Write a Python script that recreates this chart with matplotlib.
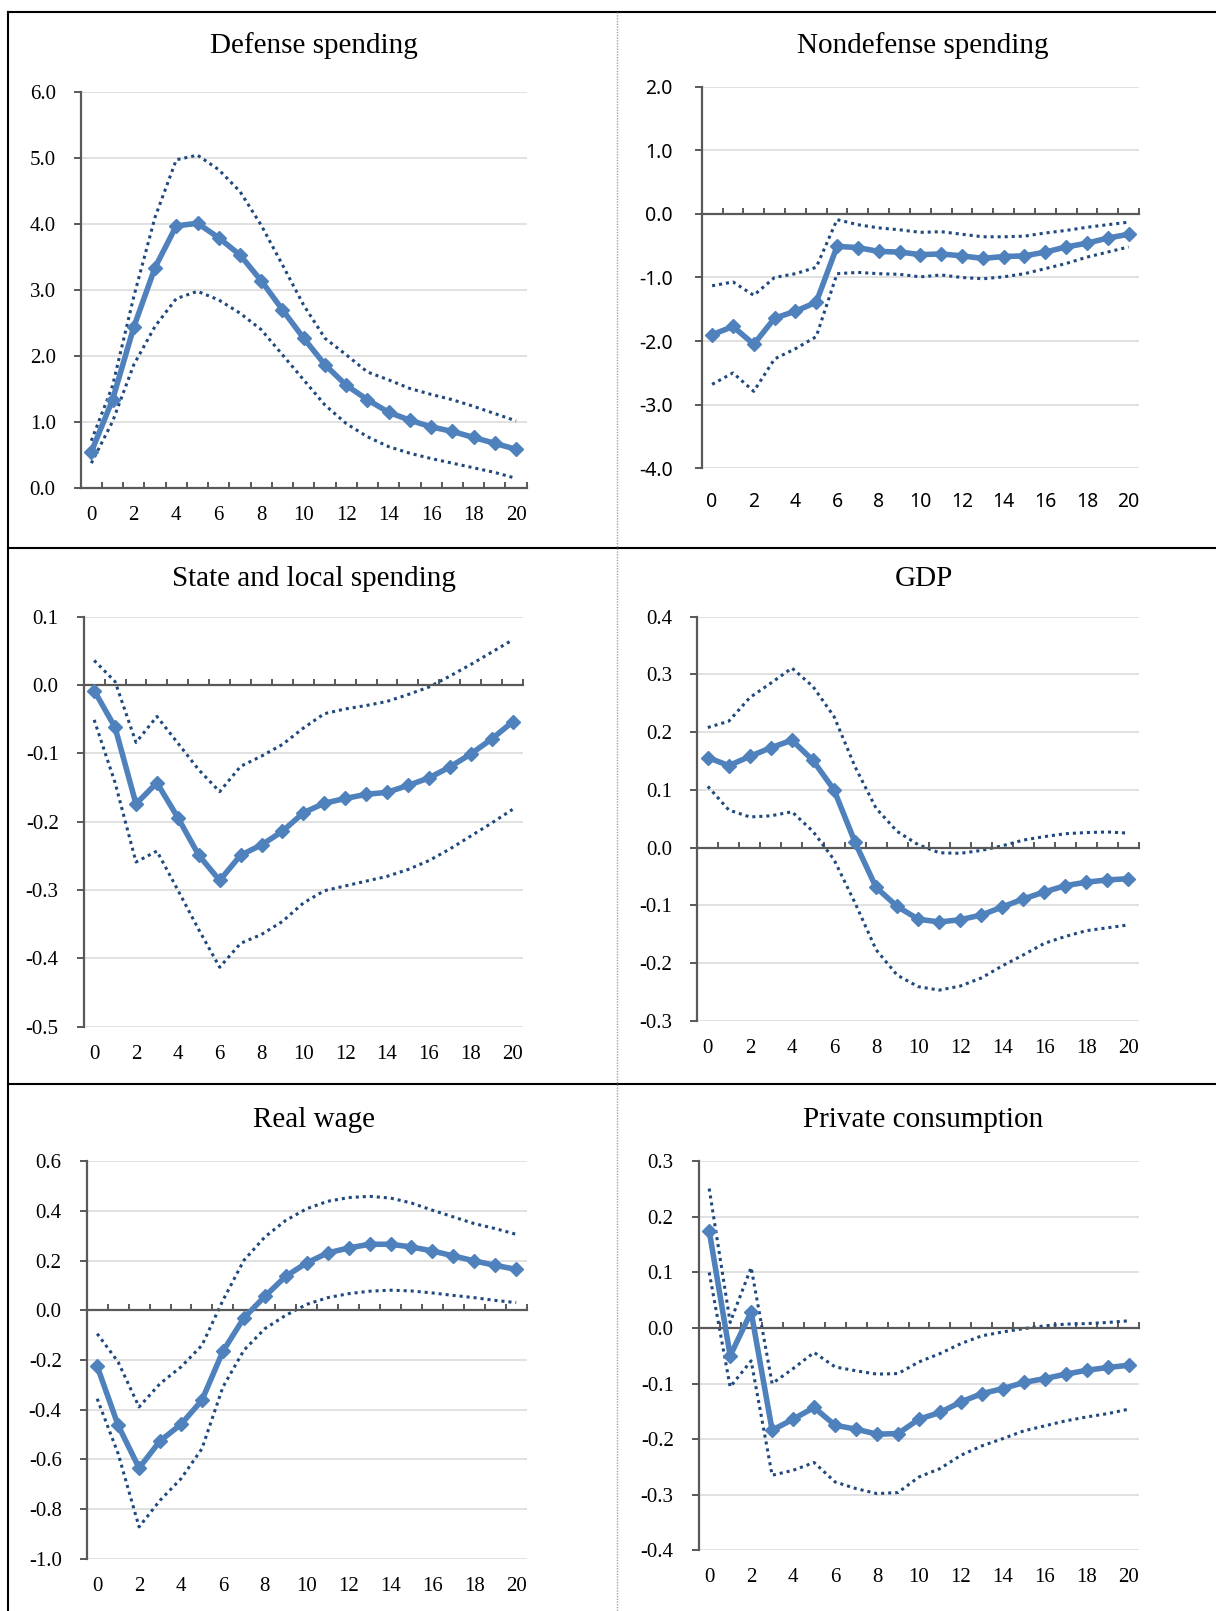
import matplotlib
matplotlib.use("Agg")
import matplotlib.pyplot as plt
from matplotlib.lines import Line2D
from matplotlib.ticker import FormatStrFormatter
import numpy as np

plt.rcParams['axes.unicode_minus'] = False

# Quarters after the shock
horizon = list(range(21))

# Defense spending
defense_irf = [0.55, 1.34, 2.44, 3.34, 3.97, 4.01, 3.79, 3.53, 3.14, 2.70, 2.27,
               1.87, 1.56, 1.34, 1.15, 1.03, 0.93, 0.86, 0.77, 0.68, 0.59]
defense_lo = [0.38, 1.01, 1.87, 2.45, 2.87, 2.98, 2.85, 2.65, 2.40, 2.02, 1.64,
              1.26, 0.98, 0.78, 0.63, 0.53, 0.45, 0.38, 0.31, 0.24, 0.15]
defense_hi = [0.72, 1.55, 2.90, 4.10, 4.97, 5.04, 4.82, 4.49, 3.98, 3.38, 2.77,
              2.27, 2.02, 1.76, 1.64, 1.51, 1.42, 1.34, 1.24, 1.13, 1.02]

# Nondefense spending
nondef_irf = [-1.90, -1.77, -2.05, -1.64, -1.53, -1.39, -0.51, -0.53, -0.59, -0.60, -0.64,
              -0.63, -0.66, -0.70, -0.67, -0.66, -0.60, -0.52, -0.46, -0.38, -0.32]
nondef_lo = [-2.68, -2.50, -2.79, -2.28, -2.12, -1.93, -0.94, -0.92, -0.94, -0.95, -0.99,
             -0.96, -1.00, -1.02, -0.99, -0.94, -0.86, -0.78, -0.68, -0.60, -0.52]
nondef_hi = [-1.13, -1.07, -1.28, -1.00, -0.94, -0.84, -0.09, -0.17, -0.22, -0.25, -0.29,
             -0.28, -0.32, -0.36, -0.36, -0.35, -0.30, -0.26, -0.21, -0.17, -0.13]

# State and local spending
state_irf = [-0.008, -0.062, -0.174, -0.143, -0.194, -0.249, -0.286, -0.249, -0.234, -0.214, -0.187,
             -0.173, -0.166, -0.160, -0.157, -0.147, -0.136, -0.120, -0.101, -0.079, -0.054]
state_lo = [-0.051, -0.143, -0.259, -0.243, -0.300, -0.358, -0.413, -0.378, -0.365, -0.346, -0.319,
            -0.301, -0.294, -0.287, -0.280, -0.270, -0.257, -0.240, -0.221, -0.202, -0.182]
state_hi = [0.036, 0.005, -0.084, -0.046, -0.085, -0.124, -0.156, -0.119, -0.104, -0.087, -0.063,
            -0.042, -0.035, -0.030, -0.024, -0.014, -0.003, 0.013, 0.030, 0.048, 0.066]

# GDP
gdp_irf = [0.156, 0.142, 0.158, 0.173, 0.186, 0.151, 0.100, 0.009, -0.069, -0.102, -0.124,
           -0.129, -0.125, -0.117, -0.103, -0.089, -0.077, -0.066, -0.060, -0.056, -0.054]
gdp_lo = [0.106, 0.065, 0.053, 0.055, 0.062, 0.028, -0.021, -0.096, -0.177, -0.221, -0.241,
          -0.247, -0.240, -0.226, -0.205, -0.186, -0.166, -0.154, -0.144, -0.139, -0.134]
gdp_hi = [0.208, 0.219, 0.260, 0.285, 0.311, 0.279, 0.227, 0.140, 0.068, 0.028, 0.005,
          -0.009, -0.010, -0.005, 0.003, 0.013, 0.019, 0.024, 0.026, 0.027, 0.025]

# Real wage
wage_irf = [-0.225, -0.463, -0.635, -0.526, -0.459, -0.362, -0.165, -0.031, 0.056, 0.137, 0.191,
            0.231, 0.251, 0.266, 0.266, 0.255, 0.239, 0.219, 0.199, 0.181, 0.165]
wage_lo = [-0.356, -0.577, -0.872, -0.765, -0.678, -0.557, -0.309, -0.161, -0.074, -0.020, 0.024,
           0.051, 0.067, 0.077, 0.081, 0.078, 0.070, 0.060, 0.051, 0.040, 0.031]
wage_hi = [-0.094, -0.208, -0.389, -0.295, -0.228, -0.141, 0.040, 0.201, 0.295, 0.362, 0.409,
           0.439, 0.454, 0.459, 0.452, 0.432, 0.403, 0.376, 0.349, 0.329, 0.306]

# Private consumption
cons_irf = [0.175, -0.050, 0.029, -0.184, -0.164, -0.143, -0.175, -0.182, -0.191, -0.190, -0.164,
            -0.152, -0.133, -0.118, -0.109, -0.098, -0.091, -0.083, -0.076, -0.071, -0.067]
cons_lo = [0.100, -0.106, -0.059, -0.265, -0.256, -0.242, -0.277, -0.289, -0.298, -0.296, -0.268,
           -0.253, -0.229, -0.212, -0.199, -0.185, -0.176, -0.167, -0.160, -0.154, -0.146]
cons_hi = [0.251, 0.010, 0.109, -0.100, -0.073, -0.044, -0.070, -0.077, -0.083, -0.082, -0.061,
           -0.046, -0.028, -0.014, -0.007, -0.001, 0.004, 0.007, 0.008, 0.010, 0.013]

titles = ["Defense spending", "Nondefense spending", "State and local spending",
          "GDP", "Real wage", "Private consumption"]
series = [(defense_irf, defense_lo, defense_hi), (nondef_irf, nondef_lo, nondef_hi),
          (state_irf, state_lo, state_hi), (gdp_irf, gdp_lo, gdp_hi),
          (wage_irf, wage_lo, wage_hi), (cons_irf, cons_lo, cons_hi)]
y_limits = [(0.0, 6.0), (-4.0, 2.0), (-0.5, 0.1), (-0.3, 0.4), (-1.0, 0.6), (-0.4, 0.3)]
y_steps = [1.0, 1.0, 0.1, 0.1, 0.2, 0.1]

# layout in pixels of the 1216x1611 page: (left, top, right, bottom) of each plot area
W, H = 1216, 1611
boxes = [(80.7, 91.7, 526.7, 488.3), (701.7, 86.7, 1139.0, 468.3),
         (83.7, 616.7, 523.0, 1026.7), (697.3, 616.7, 1139.0, 1020.7),
         (86.7, 1161.3, 526.7, 1558.7), (698.7, 1161.3, 1139.3, 1550.3)]
title_pos = [(314, 46), (923, 46), (314, 579), (924, 579), (314, 1120), (923, 1120)]

BLUE = '#4F81BD'
NAVY = '#1F497D'
AXIS = '#595959'
GRID = '#D9D9D9'
SERIF = 'Liberation Serif'

fig = plt.figure(figsize=(W / 100, H / 100), dpi=100)

for i in range(6):
    l, t, r, b = boxes[i]
    ax = fig.add_axes([l / W, 1 - b / H, (r - l) / W, (b - t) / H])
    irf, lo, hi = series[i]

    ax.plot(horizon, lo, color=NAVY, lw=2.2, linestyle=(0, (1, 1.3)), zorder=2)
    ax.plot(horizon, hi, color=NAVY, lw=2.2, linestyle=(0, (1, 1.3)), zorder=2)
    ax.plot(horizon, irf, color=BLUE, lw=4.0, marker='D', markersize=7, zorder=3)

    ymin, ymax = y_limits[i]
    ax.set_ylim(ymin, ymax)
    ax.set_xlim(-0.5, 20.5)
    yt = np.round(np.arange(ymin, ymax + y_steps[i] / 2, y_steps[i]), 6) + 0.0
    ax.set_yticks(yt)
    ax.yaxis.set_major_formatter(FormatStrFormatter('%.1f'))
    ax.yaxis.grid(True, color=GRID, lw=1.1)
    ax.set_axisbelow(True)

    # category axis crossing at zero, tick marks between categories
    ax.spines['bottom'].set_position(('data', 0))
    ax.spines['bottom'].set_color(AXIS)
    ax.spines['bottom'].set_linewidth(1.6)
    ax.spines['left'].set_color(AXIS)
    ax.spines['left'].set_linewidth(1.6)
    ax.spines['top'].set_visible(False)
    ax.spines['right'].set_visible(False)
    ax.set_xticks(np.arange(-0.5, 21, 1))
    ax.tick_params(axis='x', direction='in', length=4.5, width=1.4, color=AXIS,
                   labelbottom=False)

    if i == 1:
        fam, fs, ypad, xpad = 'Noto Sans', 14, 16, 17
    else:
        fam, fs, ypad, xpad = SERIF, 15, 13, 13
    ax.tick_params(axis='y', direction='out', length=5, width=1.4, color=AXIS,
                   labelsize=fs, labelfontfamily=fam, pad=ypad, labelcolor='black')

    # category labels along the bottom of the plot area
    sec = ax.secondary_xaxis('bottom')
    sec.spines['bottom'].set_visible(False)
    sec.set_xticks(horizon[::2])
    sec.tick_params(axis='x', length=0, pad=xpad, labelsize=fs, labelfontfamily=fam)

    tx, ty = title_pos[i]
    fig.text(tx / W, 1 - ty / H, titles[i], ha='center', va='center',
             fontsize=21, family=SERIF)

# table rules around the panels
def hline(y, x0=8, x1=W, **kw):
    fig.add_artist(Line2D([x0 / W, x1 / W], [1 - y / H, 1 - y / H],
                          transform=fig.transFigure, **kw))

def vline(x, y0, y1, **kw):
    fig.add_artist(Line2D([x / W, x / W], [1 - y0 / H, 1 - y1 / H],
                          transform=fig.transFigure, **kw))

for y in (12.3, 547.5, 1084.0):
    hline(y, color='black', lw=1.5)
vline(8, 12.3, H, color='black', lw=1.5)
vline(617, 12.3, H, color='#A0A0A0', lw=1.0, linestyle=(0, (1, 1)))

fig.savefig('out.png', dpi=100)
